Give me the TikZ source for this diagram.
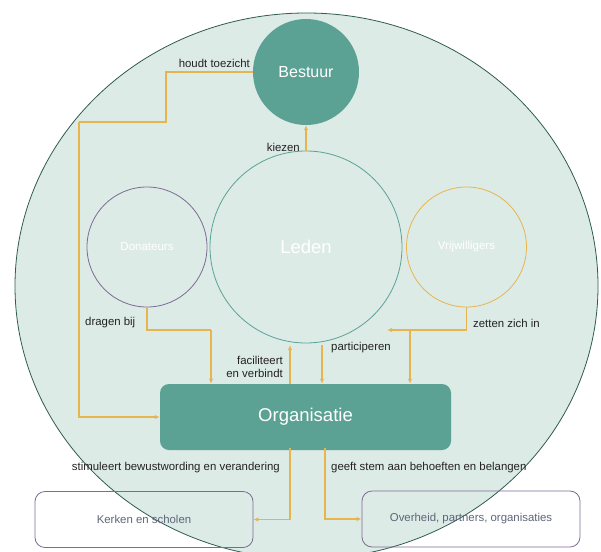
\documentclass[tikz,border=0pt]{standalone}
\usepackage{fontspec}
\setmainfont{Liberation Sans}
\usetikzlibrary{arrows.meta}
\definecolor{bgfill}{HTML}{DDEBE7}
\definecolor{bgline}{HTML}{2E5B52}
\definecolor{teal}{HTML}{5BA295}
\definecolor{orng}{HTML}{E8B44E}
\definecolor{purp}{HTML}{7D6B93}
\definecolor{boxtxt}{HTML}{5E6577}
\definecolor{lbl}{HTML}{222222}
\tikzset{
  arr/.style={draw=orng, line width=1.1pt, -{Latex[length=5pt,width=4.5pt]}},
  ln/.style={draw=orng, line width=1.1pt},
  lab/.style={text=lbl, font=\fontsize{11.4}{13.8}\selectfont, inner sep=0pt},
  ring/.style={circle, draw, line width=0.8pt, inner sep=0pt, text=white},
  outbox/.style={draw=purp, line width=0.8pt, rounded corners=10pt, minimum width=218pt, minimum height=56pt, text=boxtxt, font=\fontsize{11.4}{13}\selectfont}
}
\begin{document}
\begin{tikzpicture}[x=1pt,y=-1pt]
\useasboundingbox (0,0) rectangle (601,551);
\begin{scope}
\clip (0,0) rectangle (601,551);
\fill[bgfill] (306.5,286) ellipse [x radius=291.5, y radius=273];
\draw[bgline, line width=0.8pt] (306.5,286) ellipse [x radius=291.5, y radius=273];
\end{scope}

\node[circle, fill=teal, minimum size=106pt, inner sep=0pt, text=white, font=\fontsize{16}{18}\selectfont] (bestuur) at (306,72) {Bestuur};
\node[ring, draw=teal, minimum size=192pt, font=\fontsize{18.5}{20}\selectfont] (leden) at (306,247) {Leden};
\node[ring, draw=purp, minimum size=120pt, font=\fontsize{11.5}{13}\selectfont] (don) at (147,247) {Donateurs};
\node[ring, draw=orng, minimum size=120pt, font=\fontsize{11.5}{13}\selectfont] (vrij) at (466.5,247) {Vrijwilligers};
\node[fill=teal, rounded corners=9pt, minimum width=291pt, minimum height=66pt, text=white, font=\fontsize{18.5}{20}\selectfont] (org) at (305.5,417) {Organisatie};
\node[outbox] (kerk) at (144,519.5) {Kerken en scholen};
\node[outbox] (overh) at (471,519) {Overheid, partners, organisaties};

% houdt toezicht
\coordinate (t1) at (166,122);
\coordinate (t2) at (79,122);
\draw[ln] (bestuur.west) -| (t1) -- (t2);
\draw[arr] (t2) |- (org.west);
\node[lab, anchor=south east] (lt) at (250,68) {houdt toezicht};

% kiezen
\draw[arr] (leden.north) -- (bestuur.south);
\node[lab, anchor=east] (lk) at (300,147) {kiezen};

% dragen bij
\coordinate (d1) at (211,330);
\draw[ln] (don.south) |- (d1);
\draw[arr] (d1) -- (d1 |- org.north);
\node[lab, anchor=west] (ld) at (85,323) {dragen bij};

% faciliteert en verbindt
\coordinate (f1) at (290,345);
\draw[arr] (f1 |- org.north) -- (f1);
\node[lab, anchor=east, align=right] (lf) at (283,367) {faciliteert\\en verbindt};

% participeren
\coordinate (p1) at (322,345);
\draw[arr] (p1) -- (p1 |- org.north);
\node[lab, anchor=west] (lp) at (331,348) {participeren};

% zetten zich in
\coordinate (z1) at (466.5,330);
\coordinate (z2) at (387,330);
\coordinate (z3) at (410,330);
\draw[ln] (vrij.south) -- (z1);
\draw[arr] (z1) -- (z2);
\draw[arr] (z3) -- (z3 |- org.north);
\node[lab, anchor=west] (lz) at (473,323) {zetten zich in};

% stimuleert
\coordinate (s1) at (290,500);
\draw[arr] ([yshift=2pt]org.south -| s1) |- (kerk.east);
\node[lab, anchor=east] (ls) at (280,468) {stimuleert bewustwording en verandering};

% geeft stem
\coordinate (g1) at (325,500);
\draw[arr] ([yshift=2pt]org.south -| g1) |- (overh.west);
\node[lab, anchor=west] (lg) at (331,468) {geeft stem aan behoeften en belangen};
\end{tikzpicture}
\end{document}
